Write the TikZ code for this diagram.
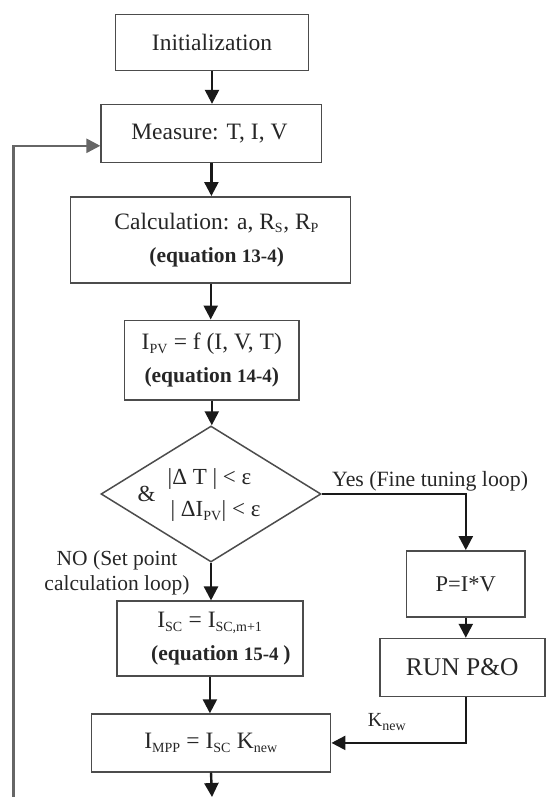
\documentclass[tikz,border=0pt]{standalone}
\usepackage{fontspec}
\setmainfont{Liberation Serif}[BoldFont={Liberation Serif Bold}]
\newfontfamily\eqbold{Liberation Serif Bold}
\usetikzlibrary{arrows.meta,shapes.geometric,calc}
\newcommand{\myeq}[1]{{\eqbold\fontsize{21.5}{24}\selectfont (equation {\fontsize{19}{20}\selectfont #1})}}
\newcommand{\sbs}[1]{\textsubscript{\fontsize{14}{15}\selectfont #1}}
\tikzset{
  box/.style={draw=black!70, line width=1.5pt, inner sep=0pt, align=center,
    text=black!85, font=\fontsize{23.5}{33}\selectfont},
  arr/.style={draw=black!90, line width=2.4pt, -{Triangle[length=14pt,width=14pt]}},
  lbl/.style={inner sep=0pt, align=center, text=black!85, font=\fontsize{21.5}{25}\selectfont},
  dlbl/.style={lbl, font=\fontsize{23}{26}\selectfont}
}
\begin{document}
\begin{tikzpicture}[x=1pt,y=-1pt]
\useasboundingbox (0,0) rectangle (547,797);
\node[box, minimum width=193pt, minimum height=56pt] (init) at (212,42.6) {Initialization};
\node[box, minimum width=220.6pt, minimum height=58pt] (meas) at (211.4,133.6) {\hspace{-4pt}Measure: T, I, V};
\node[box, minimum width=280pt, minimum height=86pt] (calc) at (210.7,239.8) {\hspace{12pt}Calculation: a, R\sbs{S}, R\sbs{P}\\\hspace{12pt}\myeq{13-4}};
\node[box, minimum width=174.4pt, minimum height=79.5pt] (ipv) at (211.8,360) {I\sbs{PV} = f (I, V, T)\\\myeq{14-4}};
\node[draw=black!70, line width=1.5pt, diamond, inner sep=0pt, shape aspect=1.62, minimum width=220pt, minimum height=136pt] (dia) at (211,494) {};
\node[dlbl] (d1) at (209.5,479.3) {|Δ T | < ε};
\node[dlbl] (d2) at (146.5,494) {\&};
\node[dlbl] (d3) at (215.5,511.4) {| ΔI\sbs{PV}| < ε};
\node[box, minimum width=118.5pt, minimum height=66.3pt, font=\fontsize{22.5}{26}\selectfont] (pbox) at (465.8,584) {P=I*V};
\node[box, minimum width=165pt, minimum height=58pt, font=\fontsize{25.5}{29}\selectfont] (run) at (462.3,667.5) {RUN P\&O};
\node[box, minimum width=186pt, minimum height=75pt] (isc) at (209.9,638.7) {I\sbs{SC} = I\sbs{SC,m+1}\\\hspace{22pt}\myeq{15-4 }};
\node[box, minimum width=239.4pt, minimum height=57.7pt] (impp) at (211,742.9) {I\sbs{MPP} = I\sbs{SC} K\sbs{new}};
\node[lbl, anchor=base west, font=\fontsize{21.8}{25}\selectfont] (yes) at (332,486) {Yes (Fine tuning loop)};
\node[lbl] (no) at (117,572.6) {NO (Set point\\calculation loop)};
\node[lbl, font=\fontsize{20}{22}\selectfont] (kn) at (387,722) {K\sbs{new}};
\coordinate (fb) at (13.3,797);
\coordinate (out) at (212,797);
\draw[arr] (init.south) -- (init.south |- meas.north);
\draw[arr] (meas.south) -- (meas.south |- calc.north);
\draw[arr] (calc.south) -- (calc.south |- ipv.north);
\draw[arr] (ipv.south) -- (ipv.south |- dia.north);
\draw[arr] (dia.south) -- (dia.south |- isc.north);
\draw[arr] (isc.south) -- (isc.south |- impp.north);
\draw[arr] (impp.south) -- (out);
\draw[arr] (dia.east) -| (pbox.north);
\draw[arr] (pbox.south) -- (pbox.south |- run.north);
\draw[arr] (pbox.south |- run.south) |- (impp.east);
\draw[arr, draw=black!60, line width=2.6pt] (fb) |- ([yshift=-12.2pt]meas.west);
\end{tikzpicture}
\end{document}
